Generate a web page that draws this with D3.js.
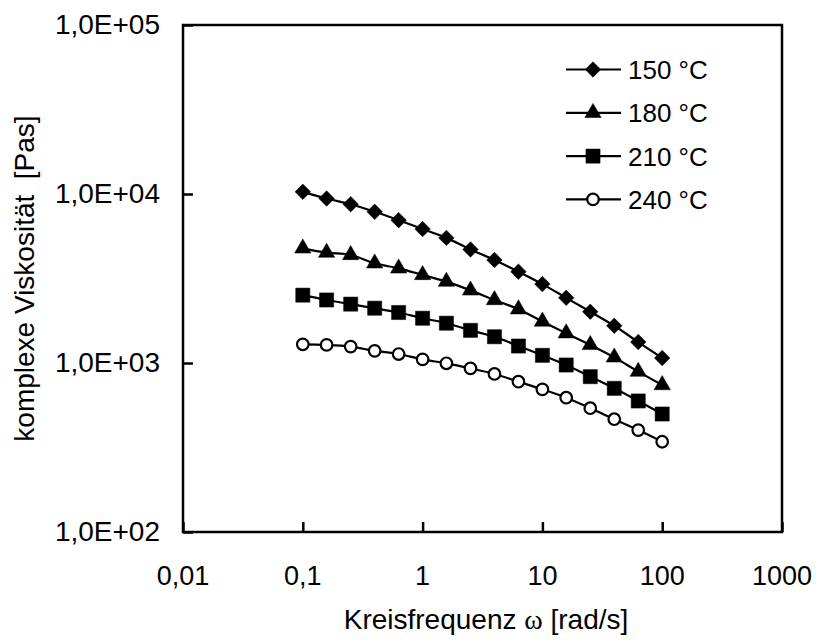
<!DOCTYPE html>
<html><head><meta charset="utf-8">
<script src="https://cdn.jsdelivr.net/npm/d3@7"></script>
<style>body{margin:0;background:#fff}svg{display:block}text{font-family:"Liberation Sans",Arial,sans-serif;fill:#000;white-space:pre}</style>
</head><body>
<script>
const frequencies = [0.1,0.158,0.251,0.398,0.631,1,1.58,2.51,3.98,6.31,10,15.8,25.1,39.8,63.1,100];
const v150 = [10300,9400,8700,7850,7000,6200,5500,4700,4070,3470,2930,2430,2010,1660,1330,1070];
const v180 = [4770,4500,4360,3890,3630,3320,3030,2690,2360,2080,1760,1500,1280,1080,889,741];
const v210 = [2520,2360,2230,2110,1990,1840,1720,1560,1430,1260,1110,973,830,708,596,499];
const v240 = [1290,1280,1250,1180,1130,1050,996,930,861,775,698,623,540,465,401,342];
const seriesNames = ["150 °C","180 °C","210 °C","240 °C"];
const xTicks = [0.01,0.1,1,10,100,1000];
const xTickLabels = ["0,01","0,1","1","10","100","1000"];
const yTicks = [100,1000,10000,100000];
const yTickLabels = ["1,0E+02","1,0E+03","1,0E+04","1,0E+05"];
const xTitleA = "Kreisfrequenz ", xTitleOmega = "ω", xTitleB = " [rad/s]";
const yTitle = "komplexe Viskosität  [Pas]";

const W=816,H=640, L=183, R=782, T=25, B=532;
const svg=d3.select("body").append("svg").attr("width",W).attr("height",H);
const x=d3.scaleLog().domain([0.01,1000]).range([L,R]);
const y=d3.scaleLog().domain([100,100000]).range([B,T]);

const series=[v150,v180,v210,v240].map((v,i)=>({name:seriesNames[i],pts:frequencies.map((f,j)=>[f,v[j]])}));
const sym=[
  {type:d3.symbolSquare,size:120,rot:45,fill:"#000"},
  {type:d3.symbolTriangle,size:115,rot:0,fill:"#000"},
  {type:d3.symbolSquare,size:200,rot:0,fill:"#000"},
  {type:d3.symbolCircle,size:105,rot:0,fill:"#fff"}
];

const fs=28;
svg.append("rect").attr("x",L).attr("y",T).attr("width",R-L).attr("height",B-T)
  .attr("fill","none").attr("stroke","#000").attr("stroke-width",2.5);

const yAxis=d3.axisRight(y).tickValues(yTicks).tickSize(10).tickFormat("");
svg.append("g").attr("transform",`translate(${L},0)`).call(yAxis)
  .call(g=>{g.select(".domain").remove();g.selectAll("line").attr("stroke-width",2.5);});
const xAxis=d3.axisTop(x).tickValues(xTicks).tickSize(10).tickFormat("");
svg.append("g").attr("transform",`translate(0,${B})`).call(xAxis)
  .call(g=>{g.select(".domain").remove();g.selectAll("line").attr("stroke-width",2.5);});

svg.append("g").selectAll("text").data(yTicks).join("text")
  .attr("x",160).attr("y",d=>y(d)+9).attr("text-anchor","end")
  .attr("font-size",fs).text((d,i)=>yTickLabels[i]);
svg.append("g").selectAll("text").data(xTicks).join("text")
  .attr("x",d=>x(d)).attr("y",585).attr("text-anchor","middle")
  .attr("font-size",27).text((d,i)=>xTickLabels[i]);

const xt=svg.append("text").attr("x",486).attr("y",629).attr("text-anchor","middle").attr("font-size",fs);
xt.append("tspan").text(xTitleA);
xt.append("tspan").attr("font-family","'Liberation Serif','Times New Roman',serif").text(xTitleOmega);
xt.append("tspan").text(xTitleB);
svg.append("text").attr("transform",`translate(34,${(T+B)/2}) rotate(-90)`)
  .attr("text-anchor","middle").attr("font-size",fs).text(yTitle);

const line=d3.line().x(d=>x(d[0])).y(d=>y(d[1])).curve(d3.curveCatmullRom.alpha(0.5));
series.forEach((s,i)=>{
  svg.append("path").attr("d",line(s.pts)).attr("fill","none").attr("stroke","#000").attr("stroke-width",2.2);
  const sy=sym[i];
  svg.append("g").selectAll("path").data(s.pts).join("path")
    .attr("d",d3.symbol().type(sy.type).size(sy.size))
    .attr("transform",d=>`translate(${x(d[0])},${y(d[1])}) rotate(${sy.rot})`)
    .attr("fill",sy.fill).attr("stroke","#000").attr("stroke-width",sy.fill==="#fff"?2.2:0.5);
});

const lg=svg.append("g");
series.forEach((s,i)=>{
  const ly=69.5+i*43.3;
  lg.append("line").attr("x1",566).attr("x2",621).attr("y1",ly).attr("y2",ly).attr("stroke","#000").attr("stroke-width",2.2);
  const sy=sym[i];
  lg.append("path").attr("d",d3.symbol().type(sy.type).size(sy.size)())
    .attr("transform",`translate(593,${ly}) rotate(${sy.rot})`)
    .attr("fill",sy.fill).attr("stroke","#000").attr("stroke-width",sy.fill==="#fff"?2.2:0.5);
  lg.append("text").attr("x",628).attr("y",ly+9.5).attr("font-size",26).text(s.name);
});
</script>
</body></html>
